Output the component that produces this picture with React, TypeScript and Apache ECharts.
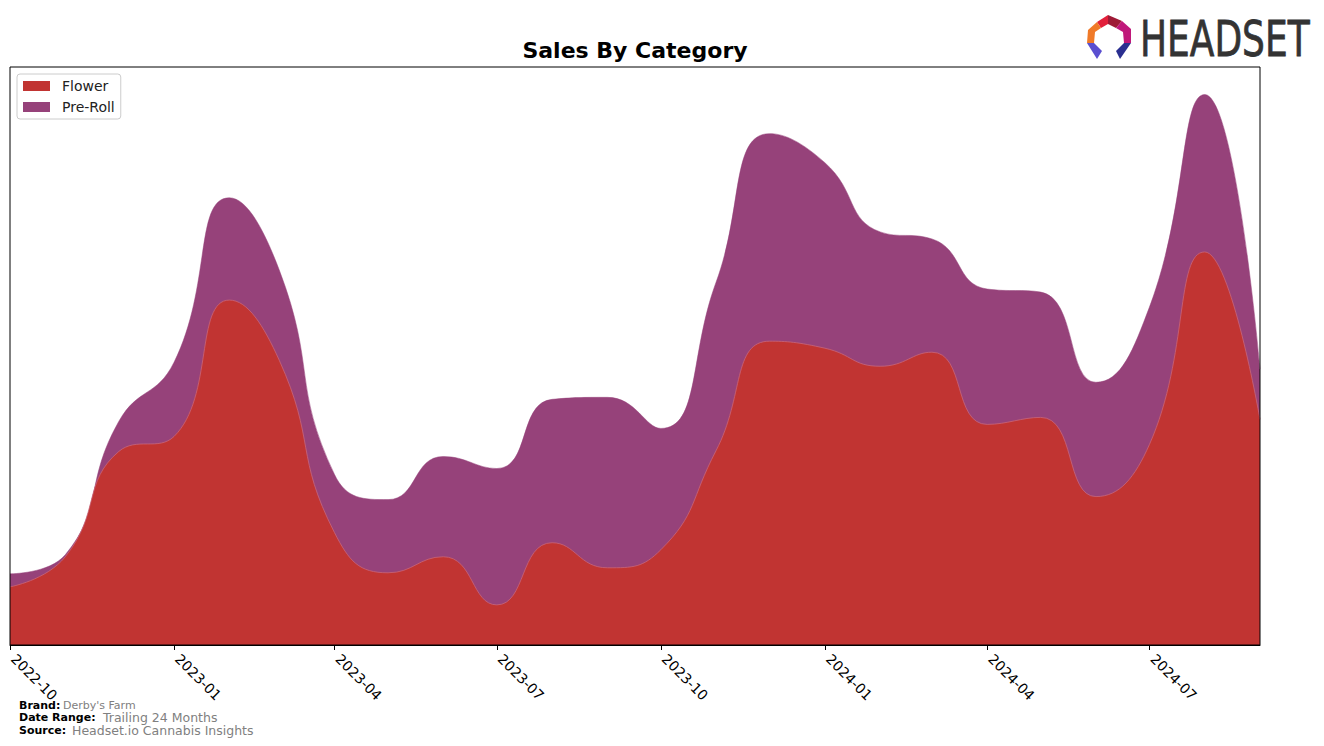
import React, { useEffect, useRef } from "react";
import * as echarts from "echarts";

const months = [
  "2022-10", "2022-11", "2022-12", "2023-01", "2023-02", "2023-03",
  "2023-04", "2023-05", "2023-06", "2023-07", "2023-08", "2023-09",
  "2023-10", "2023-11", "2023-12", "2024-01", "2024-02", "2024-03",
  "2024-04", "2024-05", "2024-06", "2024-07", "2024-08", "2024-09",
];
const flower = [58, 88, 193, 208, 344, 284, 112, 72, 88, 40, 102, 77, 95, 194, 303, 296, 278, 292, 220, 227, 148, 200, 392, 225];
const preRoll = [13, 2, 30, 74, 102, 90, 58, 73, 100, 136, 143, 170, 121, 168, 207, 185, 134, 113, 135, 125, 114, 137, 157, 50];
const tickLabels = ["2022-10", "2023-01", "2023-04", "2023-07", "2023-10", "2024-01", "2024-04", "2024-07"];

const toTs = (m: string) => new Date(m + "-01T00:00:00Z").getTime();

export default function App() {
  const ref = useRef<HTMLDivElement>(null);
  useEffect(() => {
    if (!ref.current) return;
    const chart = echarts.init(ref.current, undefined, { renderer: "svg" });
    const xs = months.map(toTs);
    const totals = flower.map((v, i) => v + preRoll[i]);
    const yMax = Math.max(...totals) * 1.05;
    const tickTs = tickLabels.map(toTs);
    const font = "DejaVu Sans";
    chart.setOption({
      animation: false,
      textStyle: { fontFamily: font },
      title: {
        text: "Sales By Category",
        left: 630,
        top: 34,
        textAlign: "center",
        textStyle: { fontSize: 22, fontWeight: "bold", color: "#000", fontFamily: font },
      },
      legend: {
        orient: "vertical",
        left: 17,
        top: 74,
        itemWidth: 27,
        itemHeight: 10,
        itemGap: 7,
        padding: [5, 6, 5, 6],
        borderColor: "#cccccc",
        borderWidth: 1,
        borderRadius: 3,
        backgroundColor: "#ffffff",
        textStyle: { fontSize: 14, color: "#222", fontFamily: font, padding: [0, 0, 0, 7] },
        data: [
          { name: "Flower", icon: "rect" },
          { name: "Pre-Roll", icon: "rect" },
        ],
      },
      grid: {
        left: 10,
        right: 64,
        top: 67,
        bottom: 101,
        show: true,
        borderColor: "#000",
        borderWidth: 1,
        backgroundColor: "transparent",
        z: 10,
      },
      xAxis: {
        type: "value",
        min: xs[0],
        max: xs[xs.length - 1],
        axisLine: { show: true, lineStyle: { color: "#000", width: 1 } },
        axisTick: { show: true, length: 5, lineStyle: { color: "#000" }, customValues: tickTs },
        splitLine: { show: false },
        axisLabel: {
          customValues: tickTs,
          rotate: -45,
          margin: 8,
          padding: [0, 0, 0, 5],
          fontSize: 14,
          color: "#000",
          fontFamily: font,
          formatter: (v: number) => {
            const i = tickTs.indexOf(v);
            return i >= 0 ? tickLabels[i] : "";
          },
        },
      },
      yAxis: {
        type: "value",
        min: 0,
        max: yMax,
        axisLine: { show: false },
        axisTick: { show: false },
        axisLabel: { show: false },
        splitLine: { show: false },
      },
      series: [
        {
          name: "Pre-Roll",
          type: "line",
          smooth: 0.5,
          symbol: "none",
          z: 2,
          data: xs.map((x, i) => [x, totals[i]]),
          itemStyle: { color: "#96427a" },
          lineStyle: { width: 0.5, color: "#96427a" },
          areaStyle: { color: "#96427a", opacity: 1 },
        },
        {
          name: "Flower",
          type: "line",
          smooth: 0.5,
          symbol: "none",
          z: 3,
          data: xs.map((x, i) => [x, flower[i]]),
          itemStyle: { color: "#c13432" },
          lineStyle: { width: 0.8, color: "#c9667a" },
          areaStyle: { color: "#c13432", opacity: 1 },
        },
      ],
      graphic: [
        { type: "text", left: 19, top: 700, style: { text: "Brand:", font: "bold 11px DejaVu Sans", fill: "#000", lineHeight: 10 } },
        { type: "text", left: 63, top: 700, style: { text: "Derby's Farm", font: "11px DejaVu Sans", fill: "#808080", lineHeight: 10 } },
        { type: "text", left: 19, top: 712, style: { text: "Date Range:", font: "bold 11px DejaVu Sans", fill: "#000", lineHeight: 10 } },
        { type: "text", left: 103, top: 711, style: { text: "Trailing 24 Months", font: "12.5px DejaVu Sans", fill: "#808080", lineHeight: 12 } },
        { type: "text", left: 19, top: 725, style: { text: "Source:", font: "bold 11px DejaVu Sans", fill: "#000", lineHeight: 10 } },
        { type: "text", left: 72, top: 724, style: { text: "Headset.io Cannabis Insights", font: "12.5px DejaVu Sans", fill: "#808080", lineHeight: 12 } },
        { type: "polygon", shape: { points: [[1097, 22], [1108, 15], [1108, 24], [1101, 28]] }, style: { fill: "#e2203a" } },
        { type: "polygon", shape: { points: [[1108, 15], [1122, 21], [1116, 28], [1108, 24]] }, style: { fill: "#9e1a36" } },
        { type: "polygon", shape: { points: [[1122, 21], [1131, 29], [1131, 43], [1124, 43], [1123, 32], [1116, 28]] }, style: { fill: "#c0187a" } },
        { type: "polygon", shape: { points: [[1097, 22], [1101, 28], [1095, 32], [1094, 43], [1087, 43], [1088, 30]] }, style: { fill: "#f07a28" } },
        { type: "polygon", shape: { points: [[1087, 43], [1094, 43], [1102, 51], [1097, 59]] }, style: { fill: "#5a4fd0" } },
        { type: "polygon", shape: { points: [[1131, 43], [1124, 43], [1116, 51], [1120, 59]] }, style: { fill: "#2a2f90" } },
        {
          type: "text",
          x: 1140,
          y: 14,
          scaleX: 0.72,
          style: { text: "HEADSET", font: "50px DejaVu Sans", fill: "#333333", stroke: "#333333", lineWidth: 0.8 },
        },
      ],
    });
    return () => chart.dispose();
  }, []);
  return (
    <div
      ref={ref}
      style={{ position: "absolute", left: 0, top: 0, width: 1324, height: 746, background: "#fff" }}
    />
  );
}
